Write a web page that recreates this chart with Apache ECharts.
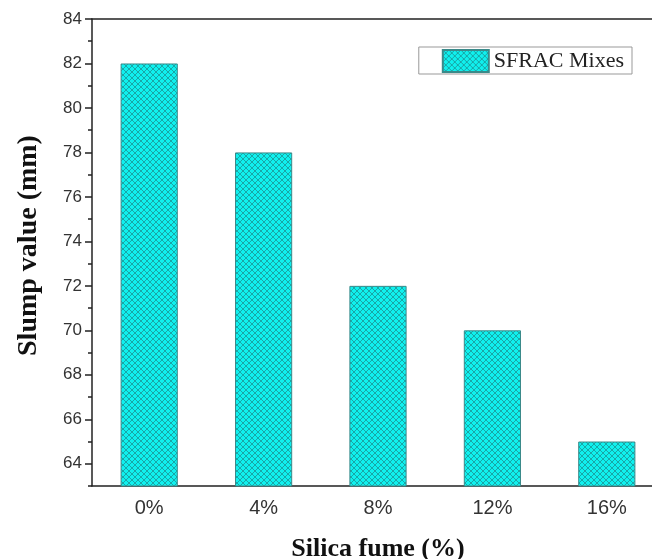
<!DOCTYPE html>
<html>
<head>
<meta charset="utf-8">
<script src="https://cdn.jsdelivr.net/npm/echarts@6/dist/echarts.min.js"></script>
<style>
  html, body { margin: 0; padding: 0; background: #fff; overflow: hidden; }
  #chart { width: 664px; height: 559px; }
</style>
</head>
<body>
<div id="chart"></div>
<script>
// data
var categories = ['0%', '4%', '8%', '12%', '16%']
var slumpValues = [82, 78, 72, 70, 65]
var majorTicks = [64, 66, 68, 70, 72, 74, 76, 78, 80, 82, 84]
var minorTicks = [63, 65, 67, 69, 71, 73, 75, 77, 79, 81, 83]

// cross-hatch fill like the origin plot
function hatch() {
  var c = document.createElement('canvas')
  c.width = 6
  c.height = 6
  var ctx = c.getContext('2d')
  ctx.fillStyle = '#10f0ee'
  ctx.fillRect(0, 0, 6, 6)
  ctx.strokeStyle = '#1a9e9e'
  ctx.lineWidth = 0.9
  ctx.beginPath()
  ctx.moveTo(0, 0); ctx.lineTo(6, 6)
  ctx.moveTo(6, 0); ctx.lineTo(0, 6)
  ctx.stroke()
  return c
}
var fill = { image: hatch(), repeat: 'repeat' }

var myChart = echarts.init(document.getElementById('chart'))
var labelFont = { color: '#333', fontSize: 17, fontFamily: 'Liberation Sans' }

var option = {
  animation: false,
  grid: { left: 92, right: 0, top: 19, bottom: 73, outerBoundsMode: 'none' },
  legend: {
    right: 32, top: 47,
    itemWidth: 46, itemHeight: 22, itemGap: 6,
    padding: [2, 8, 1, 23],
    borderColor: '#999', borderWidth: 1,
    textStyle: { fontFamily: 'Liberation Serif', fontSize: 22, color: '#222' },
    data: [{ name: 'SFRAC Mixes', icon: 'rect' }]
  },
  xAxis: [
    {
      type: 'category',
      data: categories,
      axisLine: { lineStyle: { color: '#222', width: 1.5 } },
      axisTick: { show: false },
      axisLabel: Object.assign({}, labelFont, { margin: 12, fontSize: 20 }),
      name: 'Silica fume (%)',
      nameLocation: 'middle',
      nameGap: 50,
      nameTextStyle: { fontFamily: 'Liberation Serif', fontWeight: 'bold', fontSize: 26, color: '#111' }
    },
    {
      type: 'category',
      position: 'top',
      data: categories,
      axisLine: { lineStyle: { color: '#222', width: 1.5 } },
      axisTick: { show: false },
      axisLabel: { show: false }
    }
  ],
  yAxis: [
    {
      type: 'value',
      min: 63, max: 84,
      splitLine: { show: false },
      axisLine: { show: true, lineStyle: { color: '#222', width: 1.5 } },
      axisTick: { show: true, length: 7, customValues: majorTicks, lineStyle: { color: '#222', width: 1.5 } },
      axisLabel: Object.assign({ margin: 10, customValues: majorTicks }, labelFont),
      name: 'Slump value (mm)',
      nameLocation: 'middle',
      nameGap: 49,
      nameTextStyle: { fontFamily: 'Liberation Serif', fontWeight: 'bold', fontSize: 28, color: '#111', padding: [0, 0, 0, 14] }
    },
    {
      type: 'value',
      position: 'left',
      min: 63, max: 84,
      splitLine: { show: false },
      axisLine: { show: false },
      axisTick: { show: true, length: 4, customValues: minorTicks, lineStyle: { color: '#222', width: 1.5 } },
      axisLabel: { show: false, customValues: minorTicks }
    }
  ],
  series: [
    {
      name: 'SFRAC Mixes',
      type: 'bar',
      data: slumpValues,
      barWidth: '50%',
      itemStyle: { color: fill, borderColor: '#3a8a8a', borderWidth: 1 }
    }
  ]
}

myChart.setOption(option)
</script>
</body>
</html>
